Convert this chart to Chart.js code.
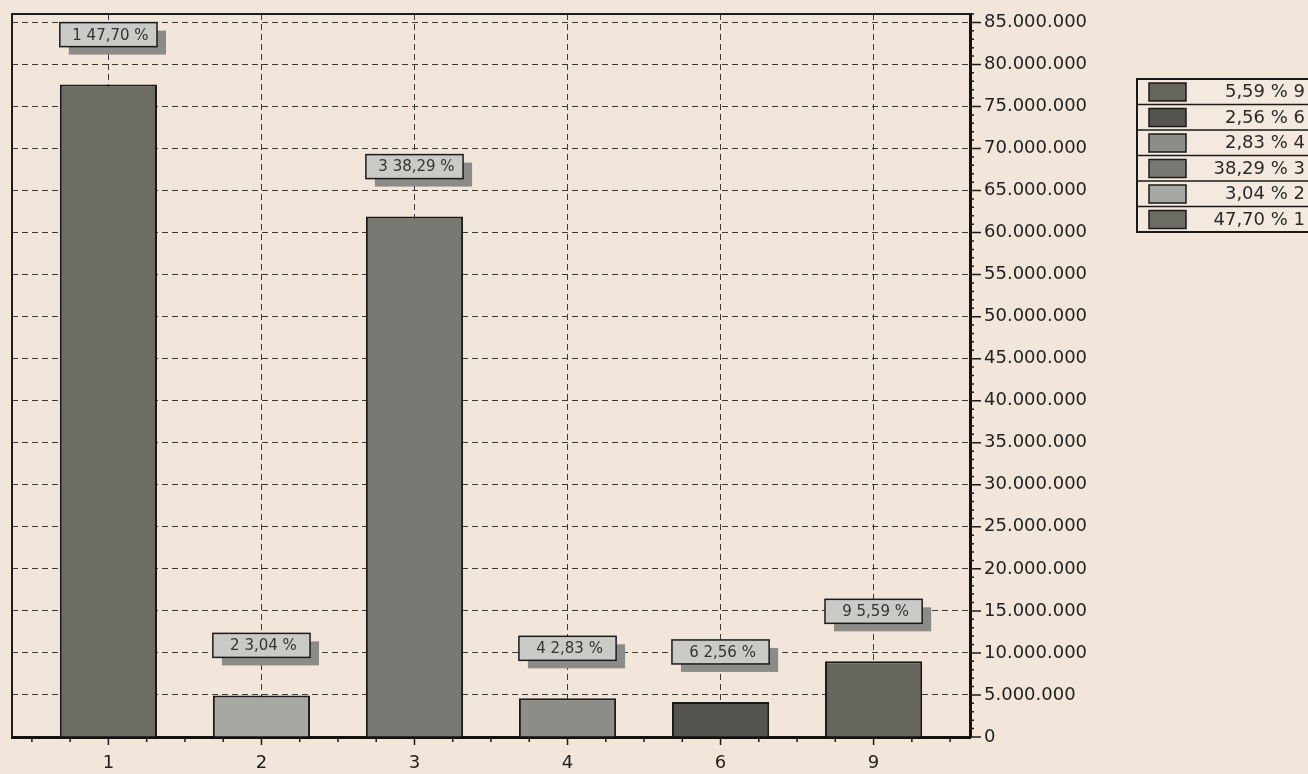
<!DOCTYPE html>
<html>
<head>
<meta charset="utf-8">
<script src="https://cdn.jsdelivr.net/npm/chart.js@4.4.1/dist/chart.umd.min.js"></script>
<style>
  html, body { margin: 0; padding: 0; background: #f2e5d9; }
  #wrap { position: relative; width: 1308px; height: 774px; }
</style>
</head>
<body>
<div id="wrap"><canvas id="grafica"></canvas></div>
<script>
/* ==================
    DATOS
================== */
const categorias = ['1', '2', '3', '4', '6', '9'];
const valores = [77600000, 4950000, 61900000, 4600000, 4170000, 9000000];
const porcentajes = [47.70, 3.04, 38.29, 2.83, 2.56, 5.59];
const ticksY = [0, 5000000, 10000000, 15000000, 20000000, 25000000, 30000000, 35000000, 40000000,
    45000000, 50000000, 55000000, 60000000, 65000000, 70000000, 75000000, 80000000, 85000000];
const coloresBarras = ['#6c6c65', '#a8a8a3', '#797973', '#8d8d87', '#555550', '#66665f'];

const fuente = 'DejaVu Sans';
const fmtPct = p => p.toFixed(2).replace('.', ',') + ' %';
const fmtMiles = v => String(v).replace(/\B(?=(\d{3})+(?!\d))/g, '.');

Chart.defaults.font.family = fuente;

/* ==================
    MARCO, TICKS, ETIQUETAS Y LEYENDA
================== */
const extras = {
    id: 'extras',
    beforeDraw(chart) {
        const ctx = chart.ctx;
        ctx.save();
        ctx.fillStyle = '#f2e5d9';
        ctx.fillRect(0, 0, chart.width, chart.height);
        ctx.restore();
    },
    afterDatasetsDraw(chart) {
        const { ctx, chartArea: a, scales: { x, y } } = chart;
        ctx.save();
        ctx.strokeStyle = '#1c1c1c';

        // borde de arriba e izquierda
        ctx.lineWidth = 2;
        ctx.beginPath();
        ctx.moveTo(a.left, a.bottom);
        ctx.lineTo(a.left, a.top);
        ctx.lineTo(a.right, a.top);
        ctx.stroke();

        // ticks menores y mayores
        ctx.lineWidth = 1.5;
        ctx.beginPath();
        for (let v = Math.ceil(x.min * 4) / 4; v <= x.max; v += 0.25) {
            const px = x.getPixelForValue(v);
            const mayor = Math.abs(v - Math.round(v)) < 1e-6;
            ctx.moveTo(px, a.bottom);
            ctx.lineTo(px, a.bottom + (mayor ? 8 : 5));
        }
        for (let v = 0; v <= y.max; v += 1000000) {
            const py = y.getPixelForValue(v);
            const mayor = v % 5000000 === 0;
            ctx.moveTo(a.right, py);
            ctx.lineTo(a.right + (mayor ? 11 : 4), py);
        }
        ctx.stroke();

        // etiquetas de las barras
        const meta = chart.getDatasetMeta(0);
        ctx.font = '15px ' + fuente;
        ctx.textAlign = 'center';
        ctx.textBaseline = 'middle';
        meta.data.forEach((bar, i) => {
            const w = bar.width;
            const h = 24;
            const bx = bar.x - w / 2;
            const by = bar.y - 50 - h / 2;
            ctx.fillStyle = '#8b8b87';
            ctx.fillRect(bx + 9, by + 8, w, h);
            ctx.fillStyle = '#cacac6';
            ctx.fillRect(bx, by, w, h);
            ctx.lineWidth = 1.5;
            ctx.strokeStyle = '#1a1a1a';
            ctx.strokeRect(bx, by, w, h);
            ctx.fillStyle = '#333';
            ctx.fillText(categorias[i] + ' ' + fmtPct(porcentajes[i]), bar.x + 2, by + h / 2 + 1);
        });
        ctx.restore();
    },
    afterDraw(chart) {
        const ctx = chart.ctx;
        const lx = 1137, ly = 79, lw = 185, rh = 25.5;
        const n = categorias.length;
        ctx.save();
        ctx.fillStyle = '#f4e9df';
        ctx.fillRect(lx, ly, lw, rh * n);
        ctx.strokeStyle = '#1a1a1a';
        ctx.lineWidth = 2;
        ctx.strokeRect(lx, ly, lw, rh * n);
        ctx.font = '18px ' + fuente;
        ctx.textAlign = 'right';
        ctx.textBaseline = 'middle';
        for (let r = 0; r < n; r++) {
            const i = n - 1 - r;
            const top = ly + r * rh;
            if (r > 0) {
                ctx.lineWidth = 1.5;
                ctx.beginPath();
                ctx.moveTo(lx, top);
                ctx.lineTo(lx + lw, top);
                ctx.stroke();
            }
            ctx.fillStyle = coloresBarras[i];
            ctx.fillRect(lx + 12, top + 4, 37, 18);
            ctx.lineWidth = 1.5;
            ctx.strokeRect(lx + 12, top + 4, 37, 18);
            ctx.fillStyle = '#2a2a2a';
            ctx.fillText(fmtPct(porcentajes[i]) + ' ' + categorias[i], 1305, top + rh / 2 + 1);
        }
        ctx.restore();
    }
};

/* ==================
    GRAFICA
================== */
const ctxG = document.getElementById('grafica').getContext('2d');

new Chart(ctxG, {
    type: 'bar',
    data: {
        datasets: [{
            data: valores.map((v, i) => ({ x: i, y: v })),
            backgroundColor: coloresBarras,
            borderColor: '#1a1a1a',
            borderWidth: 2,
            barPercentage: 1,
            categoryPercentage: 0.635
        }]
    },
    options: {
        responsive: true,
        maintainAspectRatio: false,
        animation: false,
        layout: { padding: { left: 12, top: 14, right: 218, bottom: 0 } },
        plugins: { legend: { display: false }, tooltip: { enabled: false } },
        scales: {
            x: {
                type: 'linear',
                min: -0.63,
                max: 5.63,
                offset: false,
                afterFit: s => { s.height = 37; },
                grid: { color: '#3a3a3a', lineWidth: 1, drawTicks: false, offset: false },
                border: { display: true, color: '#111', width: 3, dash: [6, 4] },
                ticks: {
                    stepSize: 1,
                    includeBounds: false,
                    padding: 16,
                    color: '#222',
                    font: { size: 18 },
                    callback: v => categorias[v]
                }
            },
            y: {
                position: 'right',
                min: 0,
                max: 86000000,
                afterFit: s => { s.width = 120; s.paddingTop = 0; },
                afterBuildTicks: s => { s.ticks = ticksY.map(v => ({ value: v })); },
                grid: { color: '#3a3a3a', lineWidth: 1, drawTicks: false },
                border: { display: true, color: '#111', width: 3, dash: [6, 4] },
                ticks: {
                    padding: 14,
                    color: '#222',
                    font: { size: 18 },
                    callback: v => fmtMiles(v)
                }
            }
        }
    },
    plugins: [extras]
});
</script>
</body>
</html>
